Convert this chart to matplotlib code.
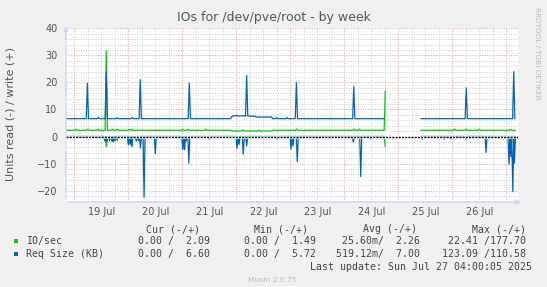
import numpy as np
import matplotlib
matplotlib.use("Agg")
import matplotlib.pyplot as plt
from matplotlib.patches import Rectangle

# hours since 19 Jul 2025 00:00
io_w_t = [-4, 0.1, 0.6, 1.1, 5.5, 6.0, 6.5, 9.9, 10.4, 10.9, 13.7, 14.2, 14.7, 16.7, 17.2, 17.7,
          18.5, 19.0, 19.5, 23.8, 24.3, 24.8, 25.1, 25.6, 26.1, 47.8, 48.3, 48.8, 50.0, 50.5, 51.0,
          57.9, 58.4, 58.9, 69.6, 70.0, 74.5, 75.0, 75.5, 81.5, 82.0, 82.5, 87.7, 88.2,
          98.3, 98.8, 99.3, 123.7, 124.2, 124.7, 126.3, 126.8, 127.3, 137.7, 138.2,
          138.5, 154.1, 168.4, 168.9, 169.4, 173.7, 174.2, 174.7, 179.5, 180.0, 180.5,
          193.5, 194.0, 194.5, 196.0]
io_w_v = [2.3, 2.3, 2.7, 2.3, 2.3, 2.7, 2.3, 2.3, 2.7, 2.3, 2.3, 31.7, 2.3, 2.3, 2.7, 2.3,
          2.3, 2.7, 2.3, 2.3, 2.7, 2.3, 2.3, 2.7, 2.3, 2.3, 2.7, 2.3, 2.3, 2.7, 2.3,
          2.3, 2.7, 2.3, 2.3, 2.05, 2.05, 2.4, 2.05, 2.05, 2.4, 2.05, 2.05, 2.3,
          2.3, 2.8, 2.3, 2.3, 2.7, 2.3, 2.3, 2.7, 2.3, 2.3, 16.6,
          np.nan, 2.3, 2.3, 2.8, 2.3, 2.3, 2.7, 2.3, 2.3, 2.7, 2.3,
          2.3, 2.7, 2.3, 2.3]

io_r_t = [-4, 13.7, 14.2, 14.7, 137.7, 138.2, 138.5, 154.1, 196.0]
io_r_v = [0, 0, -3.8, 0, 0, -3.6, np.nan, 0, 0]

req_w_t = [-4, 5.3, 5.8, 6.3, 10.2, 10.7, 11.2, 13.7, 14.2, 14.7, 18.6, 19.1, 19.6,
           25.3, 25.8, 26.3, 28.8, 29.3, 29.8, 50.6, 51.1, 51.6, 69.5, 70.0, 71.0,
           73.7, 75.0, 76.1, 76.6, 77.1, 80.3, 80.8, 87.7, 88.2, 89.5, 90.0, 90.5,
           94.0, 94.5, 95.0, 98.2, 98.7, 99.2, 123.7, 124.2, 124.7, 137.8, 138.3,
           154.1, 173.7, 174.2, 174.7, 194.8, 195.3, 195.8]
req_w_v = [6.6, 6.6, 19.7, 6.6, 6.6, 7.1, 6.6, 6.6, 23.8, 6.6, 6.6, 7.0, 6.6,
           6.6, 7.0, 6.6, 6.6, 21.0, 6.6, 6.6, 19.7, 6.6, 6.6, 7.4, 7.7,
           7.6, 7.7, 7.5, 22.5, 7.6, 7.5, 7.2, 7.2, 6.6, 6.6, 7.0, 6.6,
           6.6, 7.0, 6.6, 6.6, 19.9, 6.6, 6.6, 18.5, 6.6, 6.6, np.nan,
           6.6, 6.6, 18.0, 6.6, 6.6, 24.0, 6.6]

# read dips (hour, value)
req_r_dips = [(13.6, -1.7), (14.5, -1.9), (15.7, -1.6), (16.8, -1.9), (17.5, -1.9),
              (18.2, -1.4), (19.1, -1.4), (24.0, -3.0), (24.8, -3.0), (25.6, -3.8),
              (26.5, -0.5), (27.5, -1.7), (28.5, -1.5), (29.4, -4.2), (31.0, -22.4),
              (36.0, -6.3), (41.8, -0.6), (48.2, -4.8), (49.0, -4.8), (49.7, -1.7),
              (50.9, -9.8), (54.4, -0.5), (60.0, -1.0), (72.3, -4.4), (73.2, -3.0),
              (75.1, -6.5), (76.6, -3.5), (84.0, -0.5), (90.0, -1.0), (96.3, -4.6),
              (97.2, -3.5), (99.1, -9.3), (108.0, -0.5), (124.0, -2.1), (127.3, -14.8),
              (131.9, -1.0), (154.7, -1.0), (164.4, -1.0), (167.4, -1.0), (174.1, -1.0),
              (183.0, -5.9), (186.0, -0.8), (188.4, -0.8), (193.2, -10.3), (194.0, -7.5),
              (194.9, -20.4), (195.6, -9.8)]
req_r_gap = (138.3, 154.1)

day_labels = ["19 Jul", "20 Jul", "21 Jul", "22 Jul", "23 Jul", "24 Jul", "25 Jul", "26 Jul"]

legend_names = ["IO/sec", "Req Size (KB)"]
legend_cur = ["0.00 /  2.09", "0.00 /  6.60"]
legend_min = ["0.00 /  1.49", "0.00 /  5.72"]
legend_avg = [" 25.60m/  2.26", "519.12m/  7.00"]
legend_max = ["22.41 /177.70", "123.09 /110.58"]
green = "#00CC00"
blue = "#0066B3"


def dips_to_line(dips, gap):
    t, v = [-4.0], [0.0]
    for h, val in dips:
        if h > gap[0] and t[-1] < gap[0]:
            t += [gap[0], gap[0] + 0.01, gap[1]]
            v += [0.0, np.nan, 0.0]
        t += [h - 0.45, h, h + 0.45]
        v += [0.0, val, 0.0]
    t.append(196.0)
    v.append(0.0)
    return t, v


W, H = 547, 287
fig = plt.figure(figsize=(W / 100, H / 100), dpi=100)
fig.patch.set_facecolor("#F0F0F0")


def px(x, y):
    return x / W, 1 - y / H


ax = fig.add_axes([66 / W, 1 - 202 / H, (518 - 66) / W, (202 - 28.3) / H])
ax.set_facecolor("white")
ax.set_xlim(-3.7, 197.2)
ax.set_ylim(-24.2, 40)

ax.set_xticks(np.arange(0, 197, 24))
ax.set_xticks(np.arange(-0, 197, 6), minor=True)
ax.set_yticks(np.arange(-20, 41, 10))
ax.set_yticks(np.arange(-24, 41, 2), minor=True)
ax.grid(which="minor", color="#CFCFCF", linestyle=(0, (1, 1.5)), linewidth=0.7)
ax.grid(which="major", color="#F0A0A0", linestyle=(0, (1, 1.5)), linewidth=0.7)
ax.set_axisbelow(True)
ax.tick_params(axis="both", which="both", length=0, labelsize=7, colors="#555555")
ax.tick_params(axis="y", pad=6)
ax.set_xticklabels([])
for s in ax.spines.values():
    s.set_visible(False)

rt, rv = dips_to_line(req_r_dips, req_r_gap)
ax.plot(io_w_t, io_w_v, color=green, lw=0.9)
ax.plot(io_r_t, io_r_v, color=green, lw=0.9)
ax.plot(req_w_t, req_w_v, color=blue, lw=0.9)
ax.plot(rt, rv, color=blue, lw=0.9)
# zero line on top
ax.axhline(0, color="white", lw=1.8)
ax.axhline(0, color="black", lw=1.0, linestyle=(0, (1.5, 0.8)))

for i, lab in enumerate(day_labels):
    ax.text(12 + 24 * i, -0.055, lab, transform=ax.get_xaxis_transform(),
            ha="center", va="center", fontsize=7, color="#555555")

# axis lines with arrows
ax.annotate("", xy=(0, 1.03), xytext=(0, 0), xycoords="axes fraction",
            arrowprops=dict(arrowstyle="-|>", color="#CFD6F8", lw=1, mutation_scale=7),
            annotation_clip=False)
ax.annotate("", xy=(1.012, 0), xytext=(0, 0), xycoords="axes fraction",
            arrowprops=dict(arrowstyle="-|>", color="#CFD6F8", lw=1, mutation_scale=7),
            annotation_clip=False)

fig.text(*px(273.5, 18), "IOs for /dev/pve/root - by week", ha="center", va="center",
         fontsize=9, color="#555555")
fig.text(*px(11, 114), "Units read (-) / write (+)", rotation=90, ha="center", va="center",
         fontsize=8, color="#555555")
fig.text(*px(537, 53), "RRDTOOL / TOBI OETIKER", rotation=270, ha="center", va="center",
         fontsize=5.2, color="#BBBBBB")

mono = dict(family="DejaVu Sans Mono", fontsize=7.1, color="#444444", va="center")
fig.text(*px(199.5, 229), "Cur (-/+)", ha="right", **mono)
fig.text(*px(308.5, 229), "Min (-/+)", ha="right", **mono)
fig.text(*px(417, 229), "Avg (-/+)", ha="right", **mono)
fig.text(*px(526, 229), "Max (-/+)", ha="right", **mono)
for i, c in enumerate([green, blue]):
    y = 241 + 12.8 * i
    fig.patches.append(Rectangle(px(13.9, y + 2.2), 4.5 / W, 4.5 / H, transform=fig.transFigure,
                                 facecolor=c, edgecolor="none"))
    fig.text(*px(26, y), legend_names[i], ha="left", **mono)
    fig.text(*px(209.5, y), legend_cur[i], ha="right", **mono)
    fig.text(*px(315.5, y), legend_min[i], ha="right", **mono)
    fig.text(*px(420.5, y), legend_avg[i], ha="right", **mono)
    fig.text(*px(526.5, y), legend_max[i], ha="right", **mono)
fig.text(*px(532, 267), "Last update: Sun Jul 27 04:00:05 2025", ha="right", **mono)
fig.text(*px(272.5, 280), "Munin 2.0.75", ha="center", va="center", fontsize=5.3, color="#BBBBBB")

fig.savefig("out.png", dpi=100, facecolor=fig.get_facecolor())
